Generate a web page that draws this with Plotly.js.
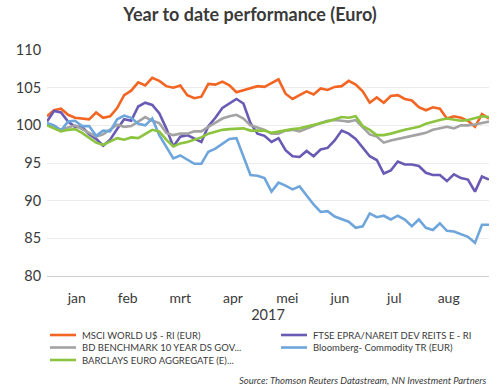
<!DOCTYPE html>
<html>
<head>
<meta charset="utf-8">
<script src="https://cdn.plot.ly/plotly-3.0.1.min.js"></script>
<style>
  html, body { margin: 0; padding: 0; background: #fff; }
  #chart { width: 500px; height: 388px; }
</style>
</head>
<body>
<div id="chart"></div>
<script>
// ---- data ----
var startDate = '2016-12-30';
var stepDays = 4;

var seriesNames = [
  'MSCI WORLD U$ - RI (EUR)',
  'FTSE EPRA/NAREIT DEV REITS E - RI',
  'BD BENCHMARK 10 YEAR DS GOV...',
  'Bloomberg- Commodity TR (EUR)',
  'BARCLAYS EURO AGGREGATE (E)...'
];

var msciWorld = [101.2,102.0,102.2,101.4,101.0,100.9,100.8,101.7,101.0,101.2,
  102.3,104.0,104.6,105.7,105.3,106.3,105.9,105.2,105.0,105.3,
  104.0,103.6,103.8,105.5,105.4,105.8,105.3,104.4,104.7,105.0,
  105.2,105.1,105.6,106.1,104.2,103.5,104.0,104.5,104.1,104.9,
  104.7,105.1,105.2,105.9,105.4,104.5,103.0,103.7,103.0,103.9,
  104.0,103.5,103.3,102.4,102.0,102.4,102.2,100.9,101.2,101.0,
  100.6,99.8,101.5,100.9];

var ftseReits = [100.5,101.9,101.7,100.5,99.8,99.8,98.8,98.2,97.3,98.1,
  99.5,100.8,100.6,102.5,103.0,102.7,101.6,99.6,97.2,98.5,
  98.7,98.3,97.8,99.9,101.0,102.3,102.9,103.5,102.9,100.3,
  98.9,98.6,97.8,98.3,96.7,95.9,95.8,96.6,95.9,96.8,
  97.0,98.0,99.3,98.9,98.2,97.0,95.9,95.4,93.6,94.0,
  95.2,94.8,94.8,94.6,93.7,93.4,93.4,92.6,93.5,93.0,
  92.8,91.2,93.2,92.8];

var bdBenchmark = [100.2,99.9,99.4,99.7,100.0,99.5,99.0,98.5,98.8,99.4,
  100.1,99.8,99.9,100.5,101.1,100.6,100.3,99.0,98.7,98.9,
  98.9,99.2,99.2,99.8,100.4,100.9,101.2,101.4,100.9,100.0,
  99.7,99.4,98.9,98.9,99.3,99.4,99.2,99.6,100.0,100.3,
  100.6,100.7,100.6,100.5,100.7,99.8,98.8,98.5,97.7,98.0,
  98.2,98.5,98.6,98.8,99.0,99.4,99.6,99.8,99.6,100.0,
  100.0,100.1,100.3,100.5];

var bloombergCommodity = [100.3,100.0,99.3,100.5,100.6,99.9,99.9,98.6,99.3,99.2,
  100.8,101.3,101.0,100.2,100.0,100.9,98.7,97.1,95.6,96.0,
  95.4,94.9,94.9,96.5,96.9,97.5,98.2,98.3,95.8,93.4,
  93.3,93.0,91.2,92.4,92.0,91.5,91.9,90.7,89.5,88.5,
  88.6,87.9,87.5,87.2,86.4,86.6,88.3,87.8,88.0,87.5,
  88.0,87.5,86.6,87.5,86.4,86.1,87.0,86.0,85.9,85.6,
  85.2,84.4,86.8,86.8];

var barclaysAgg = [100.0,99.6,99.2,99.4,99.5,99.0,98.4,97.7,97.4,97.8,
  98.3,98.1,98.4,98.3,98.9,99.4,99.2,98.1,97.2,97.6,
  97.8,98.1,98.4,98.9,99.2,99.4,99.5,99.6,99.6,99.3,
  99.3,99.3,99.0,99.2,99.3,99.5,99.6,99.8,100.1,100.3,
  100.5,100.8,101.1,101.0,101.2,99.9,99.4,98.7,98.7,98.9,
  99.2,99.4,99.6,99.8,100.2,100.5,100.7,100.9,100.8,100.6,
  100.7,101.0,101.2,101.1];

var monthTickDates = ['2017-01-16','2017-02-14','2017-03-16','2017-04-15',
  '2017-05-16','2017-06-15','2017-07-16','2017-08-16'];
var monthTickLabels = ['jan','feb','mrt','apr','mei','jun','jul','aug'];
var yearLabel = '2017';
var chartTitle = 'Year to date performance (Euro)';
var sourceText = 'Source: Thomson Reuters Datastream, NN Investment Partners';

// ---- styling ----
var colors = ['#F26522', '#6A5AB4', '#A3A3A3', '#6EA6DC', '#8CC43F'];
var FONT = 'Lato, "Open Sans", sans-serif';
var TEXT = '#3a3a3a';

// build date list
function buildDates(n) {
  var out = [];
  var d0 = new Date(startDate + 'T00:00:00Z');
  for (var i = 0; i < n; i++) {
    var d = new Date(d0.getTime() + i * stepDays * 86400000);
    out.push(d.toISOString().slice(0, 10));
  }
  return out;
}
var allSeries = [msciWorld, ftseReits, bdBenchmark, bloombergCommodity, barclaysAgg];
var dates = buildDates(msciWorld.length);

var traces = allSeries.map(function (vals, i) {
  return {
    type: 'scatter', mode: 'lines',
    x: dates, y: vals, name: seriesNames[i],
    line: { color: colors[i], width: 2.6 },
    showlegend: false, hoverinfo: 'skip'
  };
});

// plot area geometry (pixels)
var W = 500, H = 388;
var mL = 47, mR = 11, mT = 50, mB = 112;
var plotW = W - mL - mR, plotH = H - mT - mB;
function px2paperX(px) { return (px - mL) / plotW; }
function py2paperY(py) { return (H - mB - py) / plotH; }

// manual compact legend (2 columns)
var legendCols = [50, 281];
var legendRows = [335, 347.5, 360];
var annotations = [];
var shapes = [];
seriesNames.forEach(function (name, i) {
  var col = i % 2, row = Math.floor(i / 2);
  var lx = legendCols[col], ly = legendRows[row];
  shapes.push({
    type: 'line', xref: 'paper', yref: 'paper',
    x0: px2paperX(lx), x1: px2paperX(lx + 26),
    y0: py2paperY(ly), y1: py2paperY(ly),
    line: { color: colors[i], width: 2.6 }
  });
  annotations.push({
    xref: 'paper', yref: 'paper',
    x: px2paperX(lx + 30), y: py2paperY(ly),
    xanchor: 'left', yanchor: 'middle', showarrow: false,
    text: name, font: { family: FONT, size: 9.5, color: TEXT }
  });
});
annotations.push({
  xref: 'paper', yref: 'paper',
  x: px2paperX(489), y: py2paperY(380),
  xanchor: 'right', yanchor: 'middle', showarrow: false,
  text: '<i>' + sourceText + '</i>',
  font: { family: FONT, size: 9.5, color: TEXT }
});

var layout = {
  width: W, height: H,
  margin: { l: mL, r: mR, t: mT, b: mB, pad: 0 },
  paper_bgcolor: '#fff', plot_bgcolor: '#fff',
  font: { family: FONT, color: TEXT },
  title: {
    text: '<b>' + chartTitle + '</b>',
    font: { family: FONT, size: 18, color: TEXT },
    x: 0.5, xref: 'container', xanchor: 'center',
    y: 1 - 15 / H, yref: 'container', yanchor: 'middle'
  },
  xaxis: {
    type: 'date',
    range: [dates[0], dates[dates.length - 1]],
    tickvals: monthTickDates, ticktext: monthTickLabels,
    ticks: 'outside', ticklen: 9, tickcolor: 'rgba(0,0,0,0)',
    tickfont: { family: FONT, size: 14, color: TEXT },
    showgrid: false, zeroline: false,
    showline: true, linecolor: '#cfcfcf', linewidth: 1.2,
    title: { text: yearLabel, font: { family: FONT, size: 14.5, color: TEXT }, standoff: 3 },
    fixedrange: true
  },
  yaxis: {
    range: [80, 110], dtick: 5, tick0: 80,
    ticks: 'outside', ticklen: 2, tickcolor: 'rgba(0,0,0,0)',
    tickfont: { family: FONT, size: 14.5, color: TEXT },
    showgrid: true, gridcolor: '#ececec', gridwidth: 1,
    zeroline: false, showline: false,
    fixedrange: true
  },
  shapes: shapes,
  annotations: annotations,
  showlegend: false
};

Plotly.newPlot('chart', traces, layout, { displayModeBar: false, staticPlot: true });
</script>
</body>
</html>
